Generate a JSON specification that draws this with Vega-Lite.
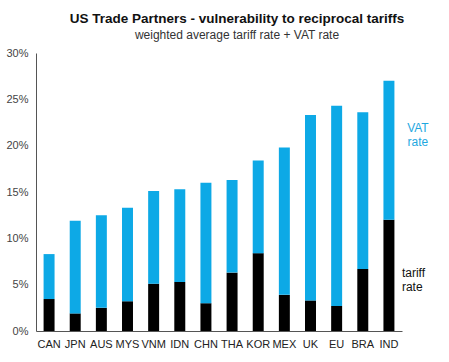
{
  "$schema": "https://vega.github.io/schema/vega-lite/v6.json",
  "width": 366,
  "height": 278,
  "autosize": "none",
  "padding": {"left": 36, "top": 53, "right": 47, "bottom": 31},
  "background": "white",
  "config": {
    "view": {"stroke": null},
    "font": "Liberation Sans"
  },
  "title": {
    "text": "US Trade Partners - vulnerability to reciprocal tariffs",
    "subtitle": "weighted average tariff rate + VAT rate",
    "fontSize": 13.5,
    "fontWeight": "bold",
    "color": "#111111",
    "subtitleFontSize": 12,
    "subtitleColor": "#333333",
    "subtitlePadding": 5,
    "anchor": "middle",
    "dx": 18,
    "offset": 6
  },
  "layer": [
    {
      "data": {
        "values": [
          {"country": "CAN", "type": "tariff", "value": 0.0345, "order": 1},
          {"country": "CAN", "type": "VAT", "value": 0.0485, "order": 2},
          {"country": "JPN", "type": "tariff", "value": 0.019, "order": 1},
          {"country": "JPN", "type": "VAT", "value": 0.100, "order": 2},
          {"country": "AUS", "type": "tariff", "value": 0.025, "order": 1},
          {"country": "AUS", "type": "VAT", "value": 0.100, "order": 2},
          {"country": "MYS", "type": "tariff", "value": 0.032, "order": 1},
          {"country": "MYS", "type": "VAT", "value": 0.101, "order": 2},
          {"country": "VNM", "type": "tariff", "value": 0.051, "order": 1},
          {"country": "VNM", "type": "VAT", "value": 0.100, "order": 2},
          {"country": "IDN", "type": "tariff", "value": 0.053, "order": 1},
          {"country": "IDN", "type": "VAT", "value": 0.100, "order": 2},
          {"country": "CHN", "type": "tariff", "value": 0.030, "order": 1},
          {"country": "CHN", "type": "VAT", "value": 0.130, "order": 2},
          {"country": "THA", "type": "tariff", "value": 0.063, "order": 1},
          {"country": "THA", "type": "VAT", "value": 0.100, "order": 2},
          {"country": "KOR", "type": "tariff", "value": 0.084, "order": 1},
          {"country": "KOR", "type": "VAT", "value": 0.100, "order": 2},
          {"country": "MEX", "type": "tariff", "value": 0.039, "order": 1},
          {"country": "MEX", "type": "VAT", "value": 0.159, "order": 2},
          {"country": "UK", "type": "tariff", "value": 0.033, "order": 1},
          {"country": "UK", "type": "VAT", "value": 0.200, "order": 2},
          {"country": "EU", "type": "tariff", "value": 0.027, "order": 1},
          {"country": "EU", "type": "VAT", "value": 0.216, "order": 2},
          {"country": "BRA", "type": "tariff", "value": 0.067, "order": 1},
          {"country": "BRA", "type": "VAT", "value": 0.169, "order": 2},
          {"country": "IND", "type": "tariff", "value": 0.120, "order": 1},
          {"country": "IND", "type": "VAT", "value": 0.150, "order": 2}
        ]
      },
      "mark": {"type": "bar"},
      "encoding": {
        "x": {
          "field": "country",
          "type": "nominal",
          "sort": null,
          "scale": {"paddingInner": 0.58, "paddingOuter": 0.29},
          "axis": {
            "title": null,
            "labelAngle": 0,
            "ticks": false,
            "labelFontSize": 11,
            "labelColor": "#222222",
            "labelPadding": 7,
            "domainColor": "#555555"
          }
        },
        "y": {
          "field": "value",
          "type": "quantitative",
          "stack": "zero",
          "scale": {"domain": [0, 0.30], "nice": false},
          "axis": {
            "title": null,
            "format": ".0%",
            "values": [0, 0.05, 0.10, 0.15, 0.20, 0.25, 0.30],
            "grid": false,
            "ticks": false,
            "labelFontSize": 11,
            "labelColor": "#444444",
            "labelPadding": 8,
            "domainColor": "#555555"
          }
        },
        "color": {
          "field": "type",
          "type": "nominal",
          "scale": {"domain": ["tariff", "VAT"], "range": ["#000000", "#0DA9E6"]},
          "legend": null
        },
        "order": {"field": "order", "type": "quantitative"}
      }
    },
    {
      "data": {"values": [{"country": "IND", "label": ["VAT", "rate"], "value": 0.219}]},
      "mark": {"type": "text", "align": "center", "baseline": "middle", "dx": 29, "fontSize": 12, "lineHeight": 14, "color": "#1FA8DF"},
      "encoding": {
        "x": {"field": "country", "type": "nominal", "sort": null},
        "y": {"field": "value", "type": "quantitative"},
        "text": {"field": "label"}
      }
    },
    {
      "data": {"values": [{"country": "IND", "label": ["tariff", "rate"], "value": 0.0625}]},
      "mark": {"type": "text", "align": "left", "baseline": "middle", "dx": 13, "fontSize": 12, "lineHeight": 14, "color": "#111111"},
      "encoding": {
        "x": {"field": "country", "type": "nominal", "sort": null},
        "y": {"field": "value", "type": "quantitative"},
        "text": {"field": "label"}
      }
    }
  ]
}
